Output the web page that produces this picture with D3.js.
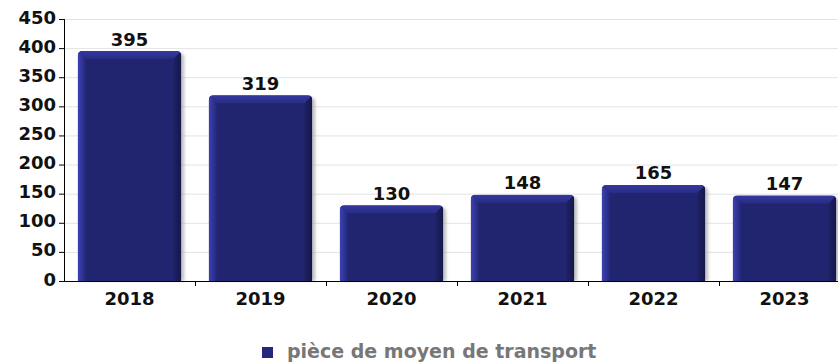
<!DOCTYPE html>
<html>
<head>
<meta charset="utf-8">
<script src="https://cdn.jsdelivr.net/npm/d3@7"></script>
<style>
  html, body { margin: 0; padding: 0; background: #fff; }
  svg { display: block; font-family: "DejaVu Sans", sans-serif; }
</style>
</head>
<body>
<svg id="chart" width="838" height="364"></svg>
<script>
const years = ["2018", "2019", "2020", "2021", "2022", "2023"];
const counts = [395, 319, 130, 148, 165, 147];
const yTicks = [0, 50, 100, 150, 200, 250, 300, 350, 400, 450];
const seriesName = "pièce de moyen de transport";

const svg = d3.select("#chart");

const x = d3.scaleBand().domain(years).range([64, 850]).paddingInner(0.21).paddingOuter(0.105);
const y = d3.scaleLinear().domain([0, 450]).range([281, 19]);

const defs = svg.append("defs");
const lg = defs.append("linearGradient").attr("id", "leftBevel").attr("x1", 0).attr("x2", 1).attr("y1", 0).attr("y2", 0);
lg.append("stop").attr("offset", 0).attr("stop-color", "#3d42b4");
lg.append("stop").attr("offset", 1).attr("stop-color", "#24287a");
const rg = defs.append("linearGradient").attr("id", "rightBevel").attr("x1", 0).attr("x2", 1).attr("y1", 0).attr("y2", 0);
rg.append("stop").attr("offset", 0).attr("stop-color", "#1f2266");
rg.append("stop").attr("offset", 1).attr("stop-color", "#15174a");
const tg = defs.append("linearGradient").attr("id", "topBevel").attr("x1", 0).attr("x2", 0).attr("y1", 0).attr("y2", 1);
tg.append("stop").attr("offset", 0).attr("stop-color", "#3539a0");
tg.append("stop").attr("offset", 1).attr("stop-color", "#282c84");
defs.append("filter").attr("id", "shadow").attr("x", "-20%").attr("y", "-20%").attr("width", "140%").attr("height", "140%")
  .append("feGaussianBlur").attr("stdDeviation", 1.5);

// gridlines
svg.append("g").selectAll("line").data(yTicks.filter(d => d > 0)).join("line")
  .attr("x1", 64).attr("x2", 838)
  .attr("y1", d => y(d) + 0.5).attr("y2", d => y(d) + 0.5)
  .attr("stroke", "#e3e3e3").attr("stroke-width", 1);

const r = 5, b = 8;
function barPath(x0, x1, top, bottom) {
  return `M${x0},${bottom}V${top + r}Q${x0},${top} ${x0 + r},${top}H${x1 - r}Q${x1},${top} ${x1},${top + r}V${bottom}Z`;
}

const bars = svg.append("g").selectAll("g").data(years.map((yr, i) => ({ yr, v: counts[i] }))).join("g");

bars.each(function(d, i) {
  const g = d3.select(this);
  const x0 = x(d.yr), x1 = x0 + x.bandwidth();
  const top = y(d.v), bottom = y(0);
  const clipId = "clip" + i;
  defs.append("clipPath").attr("id", clipId).append("path").attr("d", barPath(x0, x1, top, bottom));
  // soft shadow to the right
  g.append("path").attr("d", barPath(x0 + 3, x1 + 3, top + 2, bottom))
    .attr("fill", "#9a9a9a").attr("opacity", 0.6).attr("filter", "url(#shadow)");
  const inner = g.append("g").attr("clip-path", `url(#${clipId})`);
  inner.append("rect").attr("x", x0).attr("y", top).attr("width", x1 - x0).attr("height", bottom - top).attr("fill", "#21246e");
  inner.append("path").attr("d", `M${x0},${top}L${x0 + b},${top + b}V${bottom}H${x0}Z`).attr("fill", "url(#leftBevel)");
  inner.append("path").attr("d", `M${x1},${top}L${x1 - b},${top + b}V${bottom}H${x1}Z`).attr("fill", "url(#rightBevel)");
  inner.append("path").attr("d", `M${x0},${top}H${x1}L${x1 - b},${top + b}H${x0 + b}Z`).attr("fill", "url(#topBevel)");
  g.append("text").attr("x", (x0 + x1) / 2).attr("y", top - 5.5)
    .attr("text-anchor", "middle").attr("font-weight", "bold").attr("font-size", 18).attr("fill", "#111")
    .text(d.v);
});

// y axis
const yAxis = svg.append("g");
yAxis.append("line").attr("x1", 64.5).attr("x2", 64.5).attr("y1", 19).attr("y2", 281).attr("stroke", "#000");
yAxis.selectAll(".tk").data(yTicks).join("line")
  .attr("x1", 59).attr("x2", 64).attr("y1", d => y(d) + 0.5).attr("y2", d => y(d) + 0.5).attr("stroke", "#000");
yAxis.selectAll("text").data(yTicks).join("text")
  .attr("x", 56).attr("y", d => y(d) + 4.5).attr("text-anchor", "end")
  .attr("font-weight", "bold").attr("font-size", 18).attr("fill", "#111").text(d => d);

// x axis
const xAxis = svg.append("g");
xAxis.append("line").attr("x1", 64).attr("x2", 838).attr("y1", 281.5).attr("y2", 281.5).attr("stroke", "#000");
const step = x.step();
xAxis.selectAll(".tk").data(years).join("line")
  .attr("x1", d => x(d) - x.paddingOuter() * step + step + 0.5)
  .attr("x2", d => x(d) - x.paddingOuter() * step + step + 0.5)
  .attr("y1", 281).attr("y2", 286).attr("stroke", "#000");
xAxis.selectAll("text").data(years).join("text")
  .attr("x", d => x(d) + x.bandwidth() / 2).attr("y", 305).attr("text-anchor", "middle")
  .attr("font-weight", "bold").attr("font-size", 18).attr("fill", "#111").text(d => d);

// legend
const legend = svg.append("g");
legend.append("rect").attr("x", 262).attr("y", 347).attr("width", 11).attr("height", 11).attr("fill", "#24287a");
legend.append("text").attr("x", 287).attr("y", 358).attr("font-weight", "bold").attr("font-size", 19)
  .attr("fill", "#777").text(seriesName);
</script>
</body>
</html>
